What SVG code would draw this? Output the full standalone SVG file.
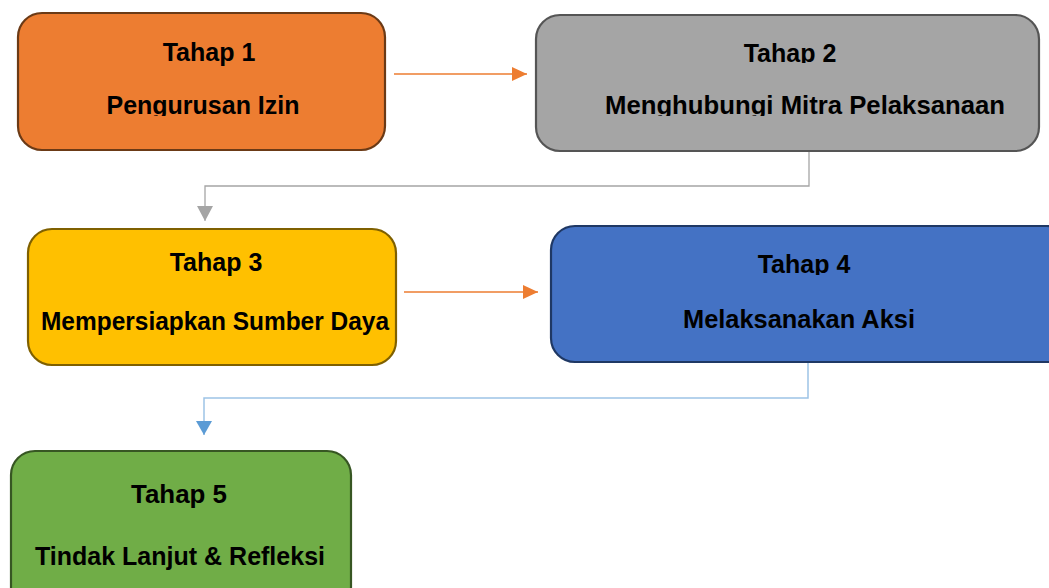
<svg xmlns="http://www.w3.org/2000/svg" width="1049" height="588" viewBox="0 0 1049 588">
<style>
.box{stroke-width:2.2}
.t{font-family:"Liberation Sans",Arial,sans-serif;font-weight:bold;font-size:25px;fill:#000;text-anchor:middle}
.c5{font-family:"Liberation Sans Narrow","Liberation Sans",Arial,sans-serif}
</style>
<defs>
<marker id="ao" markerWidth="16" markerHeight="14" refX="15" refY="7" orient="auto" markerUnits="userSpaceOnUse"><path d="M0,0 L15,7 L0,14 Z" fill="#ED7D31"/></marker>
<marker id="ag" markerWidth="16" markerHeight="16" refX="8" refY="15" orient="0" markerUnits="userSpaceOnUse"><path d="M0,0 L16,0 L8,15 Z" fill="#A5A5A5"/></marker>
<marker id="ab" markerWidth="16" markerHeight="16" refX="8" refY="14" orient="0" markerUnits="userSpaceOnUse"><path d="M0,0 L16,0 L8,14 Z" fill="#5B9BD5"/></marker>
<clipPath id="c1"><rect x="0" y="0" width="1049" height="116"/></clipPath>
<clipPath id="c2t"><rect x="0" y="0" width="1049" height="63"/></clipPath>
<clipPath id="c4t"><rect x="0" y="0" width="1049" height="275"/></clipPath>
</defs>
<rect width="1049" height="588" fill="#fff"/>
<g id="connectors" fill="none">
<line x1="394" y1="74" x2="527" y2="74" stroke="#ED7D31" stroke-width="1.3" marker-end="url(#ao)"/>
<line x1="404" y1="292" x2="538" y2="292" stroke="#ED7D31" stroke-width="1.3" marker-end="url(#ao)"/>
<polyline points="809,151 809,186 205,186 205,206" stroke="#A5A5A5" stroke-width="1.3"/>
<line x1="205" y1="206" x2="205" y2="221" stroke="#A5A5A5" stroke-width="1" marker-end="url(#ag)"/>
<polyline points="808,362 808,398 204,398 204,422" stroke="#9DC3E6" stroke-width="1.5"/>
<line x1="204" y1="422" x2="204" y2="435" stroke="#5B9BD5" stroke-width="1" marker-end="url(#ab)"/>
</g>
<g id="node1">
<rect class="box" x="18" y="13" width="367" height="137" rx="24" fill="#ED7D31" stroke="#6B3A16"/>
<text class="t" x="209" y="61">Tahap 1</text>
<text class="t" x="203" y="114" clip-path="url(#c1)">Pengurusan Izin</text>
</g>
<g id="node2">
<rect class="box" x="536" y="15" width="503" height="136" rx="24" fill="#A5A5A5" stroke="#555555"/>
<text class="t" x="790" y="62" clip-path="url(#c2t)">Tahap 2</text>
<text class="t" x="805" y="114" textLength="400" lengthAdjust="spacingAndGlyphs" clip-path="url(#c1)">Menghubungi Mitra Pelaksanaan</text>
</g>
<g id="node3">
<rect class="box" x="28" y="229" width="368" height="136" rx="24" fill="#FFC000" stroke="#7F6000"/>
<text class="t" x="216" y="271">Tahap 3</text>
<text class="t" x="215" y="330" textLength="348" lengthAdjust="spacingAndGlyphs">Mempersiapkan Sumber Daya</text>
</g>
<g id="node4">
<rect class="box" x="551" y="226" width="520" height="136" rx="24" fill="#4472C4" stroke="#1F3864"/>
<text class="t" x="804" y="273" clip-path="url(#c4t)">Tahap 4</text>
<text class="t" x="799" y="328" textLength="232" lengthAdjust="spacingAndGlyphs">Melaksanakan Aksi</text>
</g>
<g id="node5">
<rect class="box" x="11" y="451" width="340" height="160" rx="24" fill="#70AD47" stroke="#375623"/>
<text class="t" x="179" y="503" textLength="96" lengthAdjust="spacingAndGlyphs">Tahap 5</text>
<text class="t" x="180" y="565" textLength="290" lengthAdjust="spacingAndGlyphs">Tindak Lanjut &amp; Refleksi</text>
</g>
</svg>
